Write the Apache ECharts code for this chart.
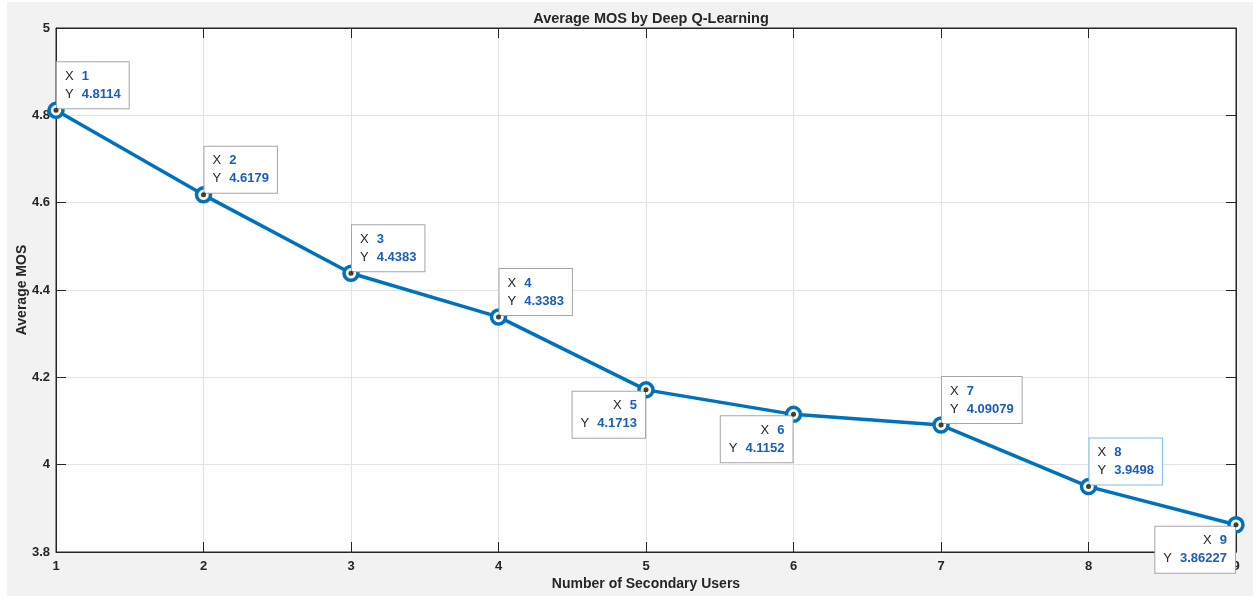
<!DOCTYPE html>
<html>
<head>
<meta charset="utf-8">
<script src="https://cdn.jsdelivr.net/npm/echarts@6/dist/echarts.min.js"></script>
<style>html,body{margin:0;padding:0;background:#fff}#c{width:1253px;height:596px}</style>
</head>
<body>
<div id="c"></div>
<script>
var xValues = [1, 2, 3, 4, 5, 6, 7, 8, 9];
var yValues = [4.8114, 4.6179, 4.4383, 4.3383, 4.1713, 4.1152, 4.09079, 3.9498, 3.86227];
var yLabels = ['4.8114', '4.6179', '4.4383', '4.3383', '4.1713', '4.1152', '4.09079', '3.9498', '3.86227'];
var belowLeftTips = [5, 6, 9];
var selectedTip = 8;

var chart = echarts.init(document.getElementById('c'));
var FONT = '"Liberation Sans", Arial, Helvetica, sans-serif';
var TXT = '#262626';

var lineData = xValues.map(function (x, i) {
  var below = belowLeftTips.indexOf(x) >= 0;
  return {
    value: [x, yValues[i]],
    label: {
      show: true,
      position: ['50%', '50%'],
      align: below ? 'right' : 'left',
      verticalAlign: below ? 'top' : 'bottom',
      offset: below ? [-1, 2] : [1, -2],
      formatter: '{k|X}{v|' + x + '}\n{k|Y}{v|' + yLabels[i] + '}',
      backgroundColor: '#ffffff',
      borderColor: x === selectedTip ? '#7cbde9' : '#a6a6a6',
      borderWidth: 1,
      padding: [5, 8, 5, 8],
      rich: {
        k: { color: TXT, fontSize: 13, fontFamily: FONT, padding: [0, 8, 0, 0], lineHeight: 18 },
        v: { color: '#1a5cc0', fontSize: 13, fontWeight: 'bold', fontFamily: FONT, lineHeight: 18 }
      }
    }
  };
});

var dotData = xValues.map(function (x, i) { return [x, yValues[i]]; });

var option = {
  backgroundColor: '#ffffff',
  animation: false,
  graphic: [{
    type: 'rect', z: -10, silent: true,
    shape: { x: 7, y: 2, width: 1253, height: 600 },
    style: { fill: '#f2f2f2' }
  }],
  title: {
    text: 'Average MOS by Deep Q-Learning',
    left: 646,
    textAlign: 'center',
    top: 6,
    textStyle: { fontSize: 14.5, fontWeight: 'bold', color: TXT, fontFamily: FONT }
  },
  grid: {
    left: 56, right: 17, top: 28, bottom: 43,
    show: true, backgroundColor: '#ffffff', borderColor: '#262626', borderWidth: 1
  },
  xAxis: [{
    type: 'value', min: 1, max: 9, interval: 1,
    name: 'Number of Secondary Users', nameLocation: 'middle', nameGap: 25,
    nameMoveOverlap: false,
    nameTextStyle: { fontSize: 14, fontWeight: 'bold', color: TXT, fontFamily: FONT },
    axisLine: { show: true, lineStyle: { color: '#262626', width: 1 } },
    axisTick: { show: true, inside: true, length: 10, lineStyle: { color: '#262626' } },
    axisLabel: { fontSize: 13, fontWeight: 'bold', color: TXT, fontFamily: FONT, margin: 8 },
    splitLine: { show: true, lineStyle: { color: '#e3e3e3', width: 1 } }
  }, {
    type: 'value', min: 1, max: 9, interval: 1, position: 'top',
    axisLine: { show: true, lineStyle: { color: '#262626', width: 1 } },
    axisTick: { show: true, inside: true, length: 10, lineStyle: { color: '#262626' } },
    axisLabel: { show: false }, splitLine: { show: false }
  }],
  yAxis: [{
    type: 'value', min: 3.8, max: 5, interval: 0.2,
    name: 'Average MOS', nameLocation: 'middle', nameGap: 27,
    nameMoveOverlap: false,
    nameTextStyle: { fontSize: 14, fontWeight: 'bold', color: TXT, fontFamily: FONT },
    axisLine: { show: true, lineStyle: { color: '#262626', width: 1 } },
    axisTick: { show: true, inside: true, length: 10, lineStyle: { color: '#262626' } },
    axisLabel: { fontSize: 13, fontWeight: 'bold', color: TXT, fontFamily: FONT, margin: 6 },
    splitLine: { show: true, lineStyle: { color: '#e3e3e3', width: 1 } }
  }, {
    type: 'value', min: 3.8, max: 5, interval: 0.2, position: 'right',
    axisLine: { show: true, lineStyle: { color: '#262626', width: 1 } },
    axisTick: { show: true, inside: true, length: 10, lineStyle: { color: '#262626' } },
    axisLabel: { show: false }, splitLine: { show: false }
  }],
  series: [{
    type: 'line',
    data: lineData,
    symbol: 'circle',
    symbolSize: 14,
    lineStyle: { color: '#0072bd', width: 3.5 },
    itemStyle: { color: '#fdfbe8', borderColor: '#0072bd', borderWidth: 3.5 },
    z: 3
  }, {
    type: 'scatter',
    data: dotData,
    symbol: 'circle',
    symbolSize: 5,
    itemStyle: { color: '#111111' },
    z: 4,
    silent: true
  }]
};
chart.setOption(option);
</script>
</body>
</html>
